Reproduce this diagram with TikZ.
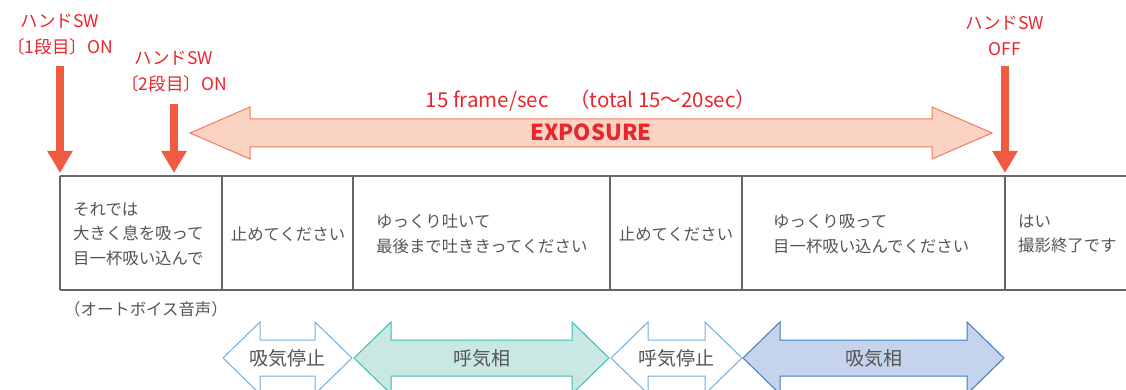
\documentclass[tikz,border=0pt]{standalone}
\usepackage{fontspec}
\setmainfont{Noto Sans CJK JP}
\usetikzlibrary{arrows.meta}
\definecolor{redtxt}{HTML}{E8262D}
\definecolor{redarr}{HTML}{F05A40}
\definecolor{expfill}{HTML}{FBD3C3}
\definecolor{expline}{HTML}{F07A60}
\definecolor{graytxt}{HTML}{555555}
\definecolor{tline}{HTML}{666666}
\definecolor{lblue}{HTML}{6FB0E2}
\definecolor{tealfill}{HTML}{C9E8E4}
\definecolor{tealline}{HTML}{3DBDB5}
\definecolor{bluefill}{HTML}{C5D3EC}
\definecolor{blueline}{HTML}{3B7DC4}
\tikzset{
  redlbl/.style={text=redtxt, font=\fontsize{17.5}{26}\selectfont, align=center, inner sep=0},
  cell/.style={text=graytxt, font=\fontsize{16.4}{24.5}\selectfont, align=left, inner sep=0, anchor=west},
  phase/.style={text=graytxt, font=\fontsize{19}{22}\selectfont, inner sep=0},
  swarrow/.style={redarr, line width=8pt, -{Triangle[width=24pt,length=22pt]}},
  tableline/.style={tline, line width=1.6pt},
  exparrow/.style={fill=expfill, draw=expline, line width=1pt},
  pausearrow/.style={fill=white, draw=lblue, line width=1pt},
  exharrow/.style={fill=tealfill, draw=tealline, line width=1pt},
  inharrow/.style={fill=bluefill, draw=blueline, line width=1pt},
}
% #1 x1, #2 x2, #3 yc, #4 head half-height, #5 shaft half-height, #6 head length, #7 style
\newcommand\blockdbl[7]{%
  \filldraw[#7] (#1,#3) -- ({#1+#6},{#3-#4}) -- ({#1+#6},{#3-#5}) -- ({#2-#6},{#3-#5})
    -- ({#2-#6},{#3-#4}) -- (#2,#3) -- ({#2-#6},{#3+#4}) -- ({#2-#6},{#3+#5})
    -- ({#1+#6},{#3+#5}) -- ({#1+#6},{#3+#4}) -- cycle;}
\begin{document}
\begin{tikzpicture}[x=1pt,y=-1pt]
\path[use as bounding box, clip] (0,0) rectangle (1126,390);

% hand switch labels and arrows
\node[redlbl] (sw1) at (60,35) {ハンドSW\\〔1段目〕ON};
\node[redlbl] (sw2) at (174,72) {ハンドSW\\〔2段目〕ON};
\node[redlbl] (sw3) at (1005,36) {ハンドSW\\OFF};
\coordinate (sw1s) at (60,66);
\coordinate (sw1e) at (60,173);
\coordinate (sw2s) at (174,104);
\coordinate (sw2e) at (174,173);
\coordinate (sw3s) at (1005,66);
\coordinate (sw3e) at (1005,173);
\draw[swarrow] (sw1s) -- (sw1e);
\draw[swarrow] (sw2s) -- (sw2e);
\draw[swarrow] (sw3s) -- (sw3e);

% exposure arrow
\blockdbl{190}{992}{133}{26}{14}{60}{exparrow}
\node[text=redtxt, font=\fontsize{20.5}{22}\selectfont, inner sep=0] (rate) at (591,101) {15 frame/sec　（total 15〜20sec）};
\node[text=redtxt, font=\fontsize{22}{24}\selectfont\bfseries, inner sep=0] (expo) at (591,132) {EXPOSURE};

% table
\draw[tableline] (60,176) -- (1126,176);
\draw[tableline] (60,290) -- (1126,290);
\foreach \xx in {60,222,353,610,742,1005} {\draw[tableline] (\xx,176) -- (\xx,290);}

\node[cell] (c1) at (73,234) {それでは\\大きく息を吸って\\目一杯吸い込んで};
\node[cell, anchor=center] (c2) at (288,234) {止めてください};
\node[cell] (c3) at (376,234) {ゆっくり吐いて\\最後まで吐ききってください};
\node[cell, anchor=center] (c4) at (676,234) {止めてください};
\node[cell] (c5) at (773,234) {ゆっくり吸って\\目一杯吸い込んでください};
\node[cell] (c6) at (1018,234) {はい\\撮影終了です};
\node[cell] (voice) at (64,309) {（オートボイス音声）};

% breathing phase arrows
\blockdbl{223}{352}{358}{36}{18}{37}{pausearrow}
\blockdbl{354}{609}{358}{36}{18}{37}{exharrow}
\blockdbl{611}{742}{358}{36}{18}{37}{pausearrow}
\blockdbl{743}{1004}{358}{36}{18}{37}{inharrow}
\node[phase] (p1) at (287.5,358) {吸気停止};
\node[phase] (p2) at (481.5,358) {呼気相};
\node[phase] (p3) at (676.5,358) {呼気停止};
\node[phase] (p4) at (873.5,358) {吸気相};
\end{tikzpicture}
\end{document}
